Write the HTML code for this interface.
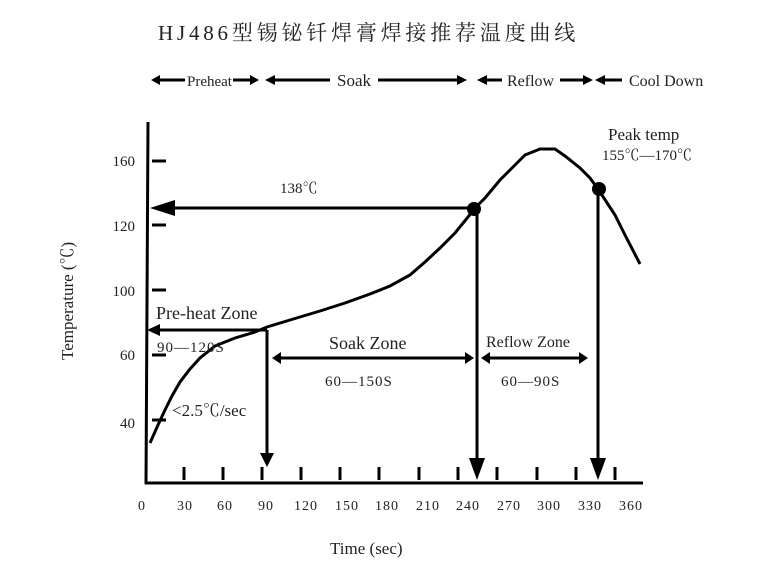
<!DOCTYPE html><html><head><style>body{margin:0;background:#fff}svg{display:block}text{font-family:"Liberation Serif","Noto Serif CJK SC",serif;fill:#222}</style></head><body>
<svg width="771" height="565" viewBox="0 0 771 565">
<text x="158" y="40" font-size="21" letter-spacing="3.8">HJ486型锡铋钎焊膏焊接推荐温度曲线</text>
<g stroke="#000" stroke-width="3" fill="#000">
<line x1="155" y1="80" x2="185" y2="80"/><polygon points="151,80 160,75 160,85" stroke="none"/>
<line x1="233" y1="80" x2="254" y2="80"/><polygon points="259,80 250,75 250,85" stroke="none"/>
<line x1="272" y1="80" x2="330" y2="80"/><polygon points="265,80 275,75 275,85" stroke="none"/>
<line x1="378" y1="80" x2="460" y2="80"/><polygon points="467,80 457,75 457,85" stroke="none"/>
<line x1="484" y1="80" x2="502" y2="80"/><polygon points="477,80 487,75 487,85" stroke="none"/>
<line x1="560" y1="80" x2="586" y2="80"/><polygon points="593,80 583,75 583,85" stroke="none"/>
<line x1="602" y1="80" x2="622" y2="80"/><polygon points="595,80 605,75 605,85" stroke="none"/>
</g>
<text x="187" y="86" font-size="15">Preheat</text>
<text x="337" y="86" font-size="17">Soak</text>
<text x="507" y="86" font-size="16">Reflow</text>
<text x="629" y="86" font-size="16">Cool Down</text>
<g stroke="#000" stroke-width="3" fill="none">
<line x1="148" y1="122" x2="146" y2="484"/><line x1="145" y1="483" x2="643" y2="483"/>
<line x1="152" y1="161" x2="166" y2="161"/><line x1="152" y1="225" x2="166" y2="225"/><line x1="152" y1="290" x2="166" y2="290"/><line x1="152" y1="355" x2="166" y2="355"/><line x1="152" y1="420" x2="166" y2="420"/>
<path d="M184,467v13M223,467v13M262,467v13M301,467v13M340,467v13M379,467v13M419,467v13M458,467v13M497,467v13M537,467v13M576,467v13M615,467v13"/>
<path d="M150,443 L158,425 165,410 172,396 180,382 190,369 200,358 215,346 235,338 255,332 267,327 290,320 320,311 345,303 370,294 390,286 410,275 425,262 440,248 455,233 468,217 475,208 485,198 500,180 510,170 525,155 540,149 555,149 565,156 580,168 590,178 600,192 615,215 625,235 640,264"/>
<line x1="170" y1="208" x2="474" y2="208"/><line x1="160" y1="330" x2="267" y2="330"/>
<line x1="267" y1="330" x2="267" y2="455"/><line x1="477" y1="209" x2="477" y2="460"/><line x1="598" y1="190" x2="598" y2="460"/>
<line x1="280" y1="358" x2="466" y2="358"/><line x1="489" y1="358" x2="583" y2="358"/>
</g>
<g fill="#000">
<polygon points="150,208 175,200 175,216"/><polygon points="147,330 160,324 160,336"/>
<polygon points="267,467 260,453 274,453"/><polygon points="477,480 469,458 485,458"/><polygon points="598,480 590,458 606,458"/>
<polygon points="272,358 281,352 281,364"/><polygon points="474,358 465,352 465,364"/>
<polygon points="481,358 490,352 490,364"/><polygon points="588,358 579,352 579,364"/>
<circle cx="474" cy="209" r="7"/><circle cx="599" cy="189" r="7"/>
</g>
<g font-size="15" text-anchor="end"><text x="135" y="166">160</text><text x="135" y="231">120</text><text x="135" y="296">100</text><text x="135" y="360">60</text><text x="135" y="428">40</text></g>
<g font-size="14" text-anchor="middle" letter-spacing="1"><text x="142" y="510">0</text><text x="185" y="510">30</text><text x="225" y="510">60</text><text x="266" y="510">90</text><text x="306" y="510">120</text><text x="347" y="510">150</text><text x="387" y="510">180</text><text x="428" y="510">210</text><text x="468" y="510">240</text><text x="509" y="510">270</text><text x="549" y="510">300</text><text x="590" y="510">330</text><text x="631" y="510">360</text></g>
<text x="330" y="554" font-size="17">Time (sec)</text>
<text transform="translate(73,360) rotate(-90)" font-size="17">Temperature (℃)</text>
<text x="280" y="193" font-size="15" fill="#555">138℃</text>
<text x="156" y="319" font-size="18">Pre-heat Zone</text>
<text x="157" y="352" font-size="15" letter-spacing="1">90—120S</text>
<text x="329" y="349" font-size="18">Soak Zone</text>
<text x="325" y="386" font-size="15" letter-spacing="1">60—150S</text>
<text x="486" y="347" font-size="16">Reflow Zone</text>
<text x="501" y="386" font-size="15" letter-spacing="1">60—90S</text>
<text x="172" y="416" font-size="17">&lt;2.5℃/sec</text>
<text x="608" y="140" font-size="17">Peak temp</text>
<text x="602" y="160" font-size="15" fill="#555">155℃—170℃</text>
</svg></body></html>
